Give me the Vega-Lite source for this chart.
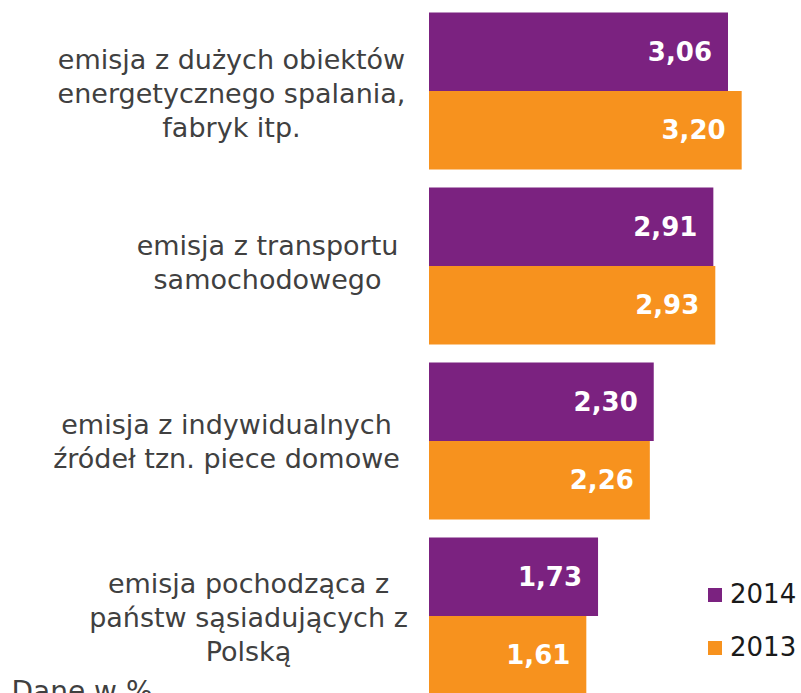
{
  "$schema": "https://vega.github.io/schema/vega-lite/v6.json",
  "autosize": "none",
  "padding": {"left": 429, "top": 0, "right": 30, "bottom": 0},
  "width": 342,
  "height": 707,
  "background": "white",
  "data": {
    "values": [
      {"kategoria": "emisja z dużych obiektów\nenergetycznego spalania,\nfabryk itp.", "rok": "2014", "wartosc": 3.06},
      {"kategoria": "emisja z dużych obiektów\nenergetycznego spalania,\nfabryk itp.", "rok": "2013", "wartosc": 3.20},
      {"kategoria": "emisja z transportu\nsamochodowego", "rok": "2014", "wartosc": 2.91},
      {"kategoria": "emisja z transportu\nsamochodowego", "rok": "2013", "wartosc": 2.93},
      {"kategoria": "emisja z indywidualnych\nźródeł tzn. piece domowe", "rok": "2014", "wartosc": 2.30},
      {"kategoria": "emisja z indywidualnych\nźródeł tzn. piece domowe", "rok": "2013", "wartosc": 2.26},
      {"kategoria": "emisja pochodząca z\npaństw sąsiadujących z\nPolską", "rok": "2014", "wartosc": 1.73},
      {"kategoria": "emisja pochodząca z\npaństw sąsiadujących z\nPolską", "rok": "2013", "wartosc": 1.61}
    ]
  },
  "encoding": {
    "x": {
      "field": "wartosc",
      "type": "quantitative",
      "scale": {"domain": [0, 3.5], "nice": false, "zero": true},
      "axis": {
        "title": "Dane w %",
        "labels": false,
        "ticks": false,
        "domain": false,
        "grid": false,
        "titleX": -418,
        "titleY": -7,
        "titleAlign": "left",
        "titleBaseline": "alphabetic",
        "titleFont": "DejaVu Sans",
        "titleFontSize": 28,
        "titleFontWeight": "normal",
        "titleColor": "#404040"
      }
    },
    "y": {
      "field": "kategoria",
      "type": "nominal",
      "sort": null,
      "scale": {"paddingInner": 0.1029, "paddingOuter": 0.0714},
      "axis": {
        "title": null,
        "domain": false,
        "ticks": false,
        "labelExpr": "split(datum.label, '\\n')",
        "labelAlign": "center",
        "labelBaseline": "middle",
        "labelLineHeight": 34,
        "labelFont": "DejaVu Sans",
        "labelFontSize": 27,
        "labelColor": "#404040",
        "labelLimit": 0,
        "labelPadding": {
          "condition": [
            {"test": "indexof(datum.value, 'transportu') >= 0", "value": 162},
            {"test": "indexof(datum.value, 'indywidualnych') >= 0", "value": 203},
            {"test": "indexof(datum.value, 'pochodząca') >= 0", "value": 181}
          ],
          "value": 198
        },
        "labelOffset": {
          "condition": [
            {"test": "indexof(datum.value, 'transportu') >= 0", "value": -19},
            {"test": "indexof(datum.value, 'indywidualnych') >= 0", "value": -15},
            {"test": "indexof(datum.value, 'pochodząca') >= 0", "value": -31}
          ],
          "value": -30
        }
      }
    },
    "yOffset": {
      "field": "rok",
      "type": "nominal",
      "sort": ["2014", "2013"],
      "scale": {"paddingInner": 0, "paddingOuter": 0}
    }
  },
  "layer": [
    {
      "mark": {"type": "bar"},
      "encoding": {
        "color": {
          "field": "rok",
          "type": "nominal",
          "scale": {"domain": ["2014", "2013"], "range": ["#7B2280", "#F7921E"]},
          "legend": {
            "title": null,
            "orient": "none",
            "legendX": 273,
            "legendY": 582,
            "symbolType": "square",
            "symbolSize": 196,
            "symbolStrokeWidth": 0,
            "labelFont": "DejaVu Sans",
            "labelFontSize": 26,
            "labelColor": "#1a1a1a",
            "labelOffset": 2,
            "rowPadding": 27,
            "padding": 0
          }
        }
      }
    },
    {
      "mark": {
        "type": "text",
        "align": "right",
        "baseline": "middle",
        "dx": -16,
        "dy": 1,
        "font": "DejaVu Sans",
        "fontSize": 26,
        "fontWeight": "bold",
        "color": "white"
      },
      "encoding": {
        "text": {"field": "wartosc", "type": "quantitative", "format": ".2f"}
      }
    }
  ],
  "config": {
    "view": {"stroke": null},
    "locale": {
      "number": {"decimal": ",", "thousands": " ", "grouping": [3], "currency": ["", " zł"]}
    }
  }
}
